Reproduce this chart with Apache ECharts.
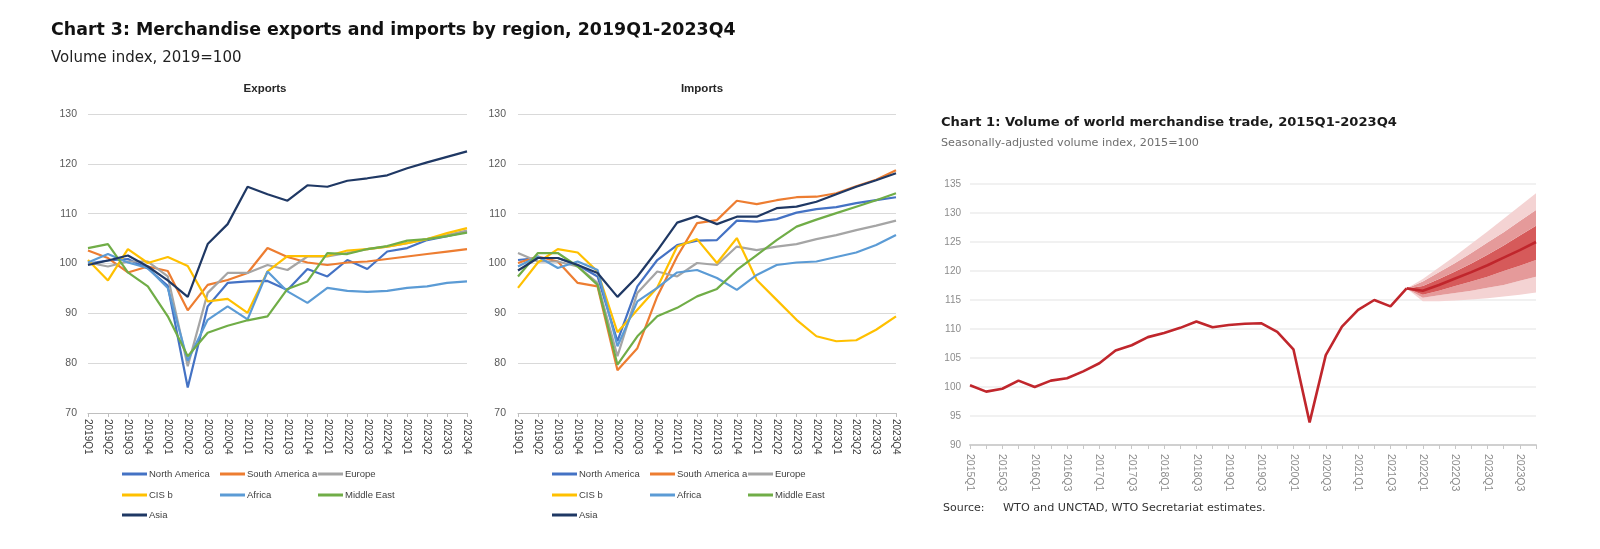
<!DOCTYPE html>
<html>
<head>
<meta charset="utf-8">
<script src="https://cdn.jsdelivr.net/npm/echarts@6/dist/echarts.min.js"></script>
<style>
html,body{margin:0;padding:0;background:#fff;}
#c{width:1600px;height:549px;}
</style>
</head>
<body>
<div id="c"></div>
<script>
// ---------- Data ----------
const quarters = ['2019Q1','2019Q2','2019Q3','2019Q4','2020Q1','2020Q2','2020Q3','2020Q4','2021Q1','2021Q2','2021Q3','2021Q4','2022Q1','2022Q2','2022Q3','2022Q4','2023Q1','2023Q2','2023Q3','2023Q4'];
const regionNames = ['North America','South America a','Europe','CIS b','Africa','Middle East','Asia'];
const regionColors = ['#4472C4','#ED7D31','#A5A5A5','#FFC000','#5B9BD5','#70AD47','#1F3864'];

// Exports
const expNorthAmerica = [100.0,100.6,100.9,99.0,95.5,75.1,91.4,96.1,96.4,96.5,94.7,98.9,97.4,100.7,98.9,102.4,103.1,104.7,105.5,106.4];
const expSouthAmerica = [102.6,101.1,98.2,99.4,98.5,90.6,95.7,96.7,98.1,103.1,101.3,100.2,99.7,100.2,100.4,100.9,101.4,101.9,102.4,102.9];
const expEurope       = [100.2,99.4,100.4,100.4,97.4,79.4,94.1,98.1,98.1,99.7,98.7,101.4,101.4,102.1,102.9,103.4,104.1,104.9,105.7,106.6];
const expCIS          = [100.7,96.6,102.9,100.1,101.3,99.5,92.4,92.9,90.1,98.4,101.5,101.5,101.5,102.6,102.9,103.4,104.1,104.9,106.1,107.1];
const expAfrica       = [100.2,101.9,100.2,99.1,95.1,80.5,88.7,91.4,88.8,98.4,94.4,92.1,95.1,94.5,94.3,94.5,95.1,95.4,96.1,96.4];
const expMiddleEast   = [103.1,103.9,98.2,95.4,89.4,81.4,86.1,87.5,88.6,89.4,94.9,96.4,102.1,101.9,102.9,103.5,104.6,104.9,105.5,106.2];
const expAsia         = [99.7,100.6,101.6,99.4,96.6,93.3,103.9,107.9,115.4,113.9,112.6,115.7,115.4,116.6,117.1,117.7,119.1,120.3,121.4,122.5];

// Imports
const impNorthAmerica = [100.7,101.1,101.1,99.7,97.4,84.4,95.4,100.7,103.7,104.6,104.7,108.6,108.4,108.9,110.2,110.9,111.3,112.1,112.7,113.3];
const impSouthAmerica = [100.1,101.4,100.4,96.1,95.4,78.6,83.0,93.4,101.4,108.1,108.7,112.6,111.9,112.7,113.3,113.4,114.1,115.5,116.8,118.7];
const impEurope       = [102.1,100.4,100.4,99.4,96.1,81.4,94.1,98.4,97.4,100.1,99.7,103.4,102.7,103.4,103.9,104.9,105.7,106.7,107.6,108.6];
const impCIS          = [95.1,100.2,102.9,102.2,98.4,86.2,90.7,95.2,103.4,104.9,100.1,105.1,96.7,92.7,88.7,85.4,84.4,84.6,86.7,89.4];
const impAfrica       = [99.4,101.4,99.1,100.4,98.7,83.4,92.4,95.1,98.2,98.7,97.1,94.7,97.7,99.7,100.2,100.4,101.3,102.2,103.7,105.7];
const impMiddleEast   = [97.4,102.1,102.1,99.4,95.7,79.7,85.4,89.4,91.1,93.4,94.9,98.7,101.7,104.7,107.4,108.8,110.1,111.4,112.7,114.1];
const impAsia         = [98.6,101.1,101.1,99.7,98.1,93.3,97.4,102.6,108.2,109.5,107.9,109.4,109.4,111.1,111.4,112.4,113.9,115.4,116.7,118.1];

// Chart 1: world merchandise trade volume
const worldQuarters = ['2015Q1','2015Q2','2015Q3','2015Q4','2016Q1','2016Q2','2016Q3','2016Q4','2017Q1','2017Q2','2017Q3','2017Q4','2018Q1','2018Q2','2018Q3','2018Q4','2019Q1','2019Q2','2019Q3','2019Q4','2020Q1','2020Q2','2020Q3','2020Q4','2021Q1','2021Q2','2021Q3','2021Q4','2022Q1','2022Q2','2022Q3','2022Q4','2023Q1','2023Q2','2023Q3','2023Q4'];
const worldActual = [100.3,99.2,99.7,101.1,100.0,101.1,101.5,102.7,104.1,106.3,107.2,108.6,109.3,110.2,111.3,110.3,110.7,110.9,111.0,109.5,106.5,93.9,105.5,110.4,113.3,115.0,113.9,117.0];
// Forecast (2021Q4 .. 2023Q4)
const fcCentral   = [117.0,116.6,117.6,118.7,119.8,121.0,122.3,123.6,125.0];
const fcOuterHigh = [117.0,118.6,120.6,122.6,124.7,126.8,129.0,131.2,133.4];
const fcMidHigh   = [117.0,118.2,119.8,121.4,123.1,124.9,126.7,128.6,130.5];
const fcInnerHigh = [117.0,117.4,118.6,119.9,121.3,122.8,124.4,126.1,127.8];
const fcInnerLow  = [117.0,115.9,116.6,117.4,118.2,119.0,120.0,120.9,121.9];
const fcMidLow    = [117.0,115.4,115.8,116.2,116.6,117.1,117.6,118.3,119.0];
const fcOuterLow  = [117.0,114.8,114.8,114.9,115.1,115.3,115.6,115.9,116.3];

// ---------- Build ----------
const exportsData = [expNorthAmerica,expSouthAmerica,expEurope,expCIS,expAfrica,expMiddleEast,expAsia];
const importsData = [impNorthAmerica,impSouthAmerica,impEurope,impCIS,impAfrica,impMiddleEast,impAsia];
const fcStart = worldActual.length - 1;
function pad(arr){ const out = new Array(worldQuarters.length).fill(null); arr.forEach((v,i)=>{out[fcStart+i]=v;}); return out; }
function diff(a,b){ return a.map((v,i)=>+(v-b[i]).toFixed(2)); }

const series = [];
regionNames.forEach((n,i)=>{
  series.push({name:n,type:'line',xAxisIndex:0,yAxisIndex:0,data:exportsData[i],showSymbol:false,symbol:'none',
    lineStyle:{width:2.2,color:regionColors[i]},itemStyle:{color:regionColors[i]},z:2+i});
});
regionNames.forEach((n,i)=>{
  series.push({name:n,type:'line',xAxisIndex:1,yAxisIndex:1,data:importsData[i],showSymbol:false,symbol:'none',
    lineStyle:{width:2.2,color:regionColors[i]},itemStyle:{color:regionColors[i]},z:2+i});
});
const bandLight='#f4d3d3', bandMid='#e59a9a', bandDark='#d65a5a';
const fanBands = [
  {name:'fanBase', data:pad(fcOuterLow), color:null},
  {name:'fan1', data:pad(diff(fcMidLow,fcOuterLow)), color:bandLight},
  {name:'fan2', data:pad(diff(fcInnerLow,fcMidLow)), color:bandMid},
  {name:'fan3', data:pad(diff(fcInnerHigh,fcInnerLow)), color:bandDark},
  {name:'fan4', data:pad(diff(fcMidHigh,fcInnerHigh)), color:bandMid},
  {name:'fan5', data:pad(diff(fcOuterHigh,fcMidHigh)), color:bandLight}
];
fanBands.forEach(b=>{
  const s = {name:b.name,type:'line',xAxisIndex:2,yAxisIndex:2,stack:'fan',data:b.data,showSymbol:false,symbol:'none',
    lineStyle:{width:0,opacity:0},silent:true,z:1};
  if (b.color) s.areaStyle = {color:b.color,opacity:1};
  series.push(s);
});
series.push({name:'World',type:'line',xAxisIndex:2,yAxisIndex:2,data:worldActual,showSymbol:false,symbol:'none',
  lineStyle:{width:2.6,color:'#c0262c'},z:5});
series.push({name:'Forecast',type:'line',xAxisIndex:2,yAxisIndex:2,data:pad(fcCentral),showSymbol:false,symbol:'none',
  lineStyle:{width:2.6,color:'#c0262c'},z:5});

// legends
const legendCols = [0,98,196];
const legendRows = [476,497,517];
function legendsFor(x0){
  return regionNames.map((n,i)=>({
    data:[n], left:x0+legendCols[i%3], top:legendRows[Math.floor(i/3)]-7,
    icon:'rect', itemWidth:25, itemHeight:3, padding:0, itemGap:0,
    selectedMode:false,
    textStyle:{fontFamily:'Liberation Sans',fontSize:9.5,color:'#404040',padding:[0,0,0,-3]}
  }));
}

const regionYAxis = (labMargin)=>({type:'value',min:70,max:130,interval:10,
  axisLine:{show:false},axisTick:{show:false},
  axisLabel:{fontFamily:'Liberation Sans',fontSize:10.5,color:'#595959',margin:labMargin},
  splitLine:{lineStyle:{color:'#d9d9d9',width:1}}});
const regionXAxis = (gi)=>({type:'category',gridIndex:gi,data:quarters,boundaryGap:false,
  axisLine:{lineStyle:{color:'#bfbfbf',width:1}},
  axisTick:{show:true,interval:0,length:4,lineStyle:{color:'#bfbfbf'}},
  axisLabel:{interval:0,rotate:-90,fontFamily:'Liberation Sans',fontSize:10,color:'#404040',margin:6}});

const option = {
  animation:false,
  backgroundColor:'#ffffff',
  title:[
    {text:'Chart 3: Merchandise exports and imports by region, 2019Q1-2023Q4',left:51,top:22,padding:0,
      textStyle:{fontFamily:'DejaVu Sans',fontWeight:'bold',fontSize:17.4,color:'#111'}},
    {text:'Volume index, 2019=100',left:51,top:51,padding:0,
      textStyle:{fontFamily:'DejaVu Sans',fontWeight:'normal',fontSize:15,color:'#222'}},
    {text:'Exports',left:265,top:83,padding:0,textAlign:'center',
      textStyle:{fontFamily:'Liberation Sans',fontWeight:'bold',fontSize:11.5,color:'#262626'}},
    {text:'Imports',left:702,top:83,padding:0,textAlign:'center',
      textStyle:{fontFamily:'Liberation Sans',fontWeight:'bold',fontSize:11.5,color:'#262626'}},
    {text:'Chart 1: Volume of world merchandise trade, 2015Q1-2023Q4',left:941,top:116,padding:0,
      textStyle:{fontFamily:'DejaVu Sans',fontWeight:'bold',fontSize:13.1,color:'#1a1a1a'}},
    {text:'Seasonally-adjusted volume index, 2015=100',left:941,top:138,padding:0,
      textStyle:{fontFamily:'DejaVu Sans',fontWeight:'normal',fontSize:11.2,color:'#6e6e6e'}},
    {text:'Source:',left:943,top:503,padding:0,
      textStyle:{fontFamily:'DejaVu Sans',fontWeight:'normal',fontSize:11,color:'#333'}},
    {text:'WTO and UNCTAD, WTO Secretariat estimates.',left:1003,top:503,padding:0,
      textStyle:{fontFamily:'DejaVu Sans',fontWeight:'normal',fontSize:11.2,color:'#333'}}
  ],
  legend:[].concat(legendsFor(122),legendsFor(552)),
  grid:[
    {left:88,top:114,width:379,height:299},
    {left:518,top:114,width:378,height:299},
    {left:970,top:184,width:566,height:261}
  ],
  xAxis:[
    regionXAxis(0),
    regionXAxis(1),
    {type:'category',gridIndex:2,data:worldQuarters,boundaryGap:false,
      axisLine:{lineStyle:{color:'#d0d0d0',width:2}},
      axisTick:{show:true,interval:0,length:4,lineStyle:{color:'#c8c8c8'}},
      axisLabel:{interval:1,rotate:-90,fontFamily:'Liberation Sans',fontSize:10.5,color:'#8c8c8c',margin:9}}
  ],
  yAxis:[
    Object.assign(regionYAxis(11),{gridIndex:0}),
    Object.assign(regionYAxis(12),{gridIndex:1}),
    {type:'value',gridIndex:2,min:90,max:135,interval:5,
      axisLine:{show:false},axisTick:{show:false},
      axisLabel:{fontFamily:'Liberation Sans',fontSize:10,color:'#8c8c8c',margin:9},
      splitLine:{lineStyle:{color:'#ececec',width:1.5}}}
  ],
  series:series
};
const chart = echarts.init(document.getElementById('c'),null,{renderer:'canvas'});
chart.setOption(option);
</script>
</body>
</html>
